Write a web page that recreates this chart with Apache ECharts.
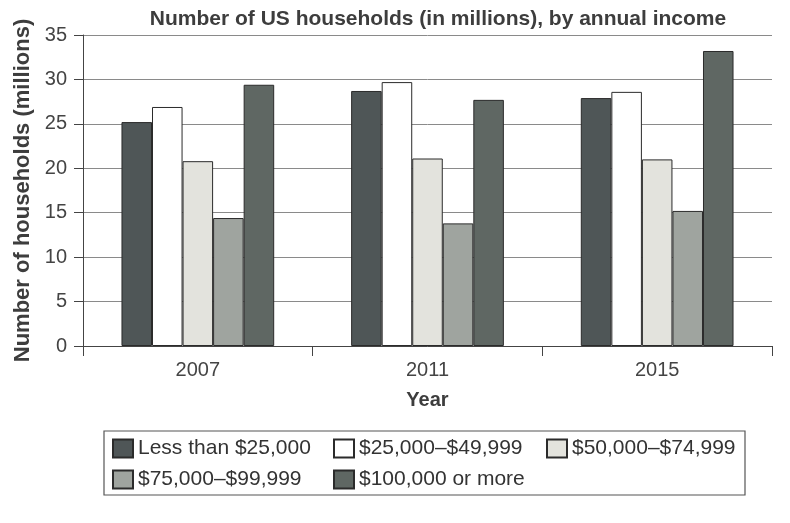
<!DOCTYPE html>
<html>
<head>
<meta charset="utf-8">
<script src="https://cdn.jsdelivr.net/npm/echarts@6/dist/echarts.min.js"></script>
<style>
  html, body { margin: 0; padding: 0; background: #fff; }
  #chart { width: 790px; height: 523px; }
</style>
</head>
<body>
<div id="chart"></div>
<script>
const years = ['2007', '2011', '2015'];
const seriesNames = ['Less than $25,000', '$25,000\u2013$49,999', '$50,000\u2013$74,999', '$75,000\u2013$99,999', '$100,000 or more'];
const lessThan25k = [25.2, 28.7, 27.9];
const from25kTo49k = [26.9, 29.7, 28.6];
const from50kTo74k = [20.8, 21.1, 21.0];
const from75kTo99k = [14.4, 13.8, 15.2];
const over100k = [29.4, 27.7, 33.2];
const yTicks = [0, 5, 10, 15, 20, 25, 30, 35];

const values = [lessThan25k, from25kTo49k, from50kTo74k, from75kTo99k, over100k];
const colors = ['#4f5657', '#ffffff', '#e3e3dd', '#9fa49f', '#5f6763'];
const FONT = 'Liberation Sans';

const legendPos = [
  { left: 112, top: 438 },
  { left: 333, top: 438 },
  { left: 546, top: 438 },
  { left: 112, top: 469 },
  { left: 333, top: 469 }
];

const chart = echarts.init(document.getElementById('chart'), null, { renderer: 'canvas' });
chart.setOption({
  backgroundColor: '#ffffff',
  animation: false,
  textStyle: { fontFamily: FONT },
  title: {
    text: 'Number of US households (in millions), by annual income',
    left: 433, top: 4, textAlign: 'center',
    textStyle: { fontFamily: FONT, fontSize: 21, fontWeight: 'bold', color: '#3d3d3d' }
  },
  legend: seriesNames.map((n, i) => ({
    data: [n],
    left: legendPos[i].left,
    top: legendPos[i].top,
    padding: 0,
    itemWidth: 20,
    itemHeight: 18,
    itemGap: 0,
    selectedMode: false,
    icon: 'rect',
    textStyle: { fontFamily: FONT, fontSize: 21, color: '#333' }
  })),
  graphic: [{
    type: 'rect',
    shape: { x: 104, y: 431, width: 641, height: 64 },
    style: { fill: 'none', stroke: '#555', lineWidth: 1.2 },
    z: -1
  }],
  grid: { left: 83, right: 18, top: 35, bottom: 177 },
  xAxis: {
    type: 'category',
    data: years,
    name: 'Year',
    nameLocation: 'middle',
    nameGap: 44,
    nameTextStyle: { fontFamily: FONT, fontSize: 20, fontWeight: 'bold', color: '#3d3d3d' },
    axisLine: { lineStyle: { color: '#444', width: 1 } },
    axisTick: { show: true, length: 10, lineStyle: { color: '#444' } },
    axisLabel: { fontFamily: FONT, fontSize: 20, color: '#444', margin: 14 }
  },
  yAxis: {
    type: 'value',
    min: yTicks[0],
    max: yTicks[yTicks.length - 1],
    interval: 5,
    name: 'Number of households (millions)',
    nameLocation: 'middle',
    nameGap: 45,
    nameTextStyle: { fontFamily: FONT, fontSize: 22, fontWeight: 'bold', color: '#3d3d3d' },
    axisLine: { show: true, lineStyle: { color: '#444', width: 1 } },
    axisTick: { show: true, length: 9, lineStyle: { color: '#444' } },
    axisLabel: { fontFamily: FONT, fontSize: 20, color: '#444', margin: 16 },
    splitLine: { lineStyle: { color: '#8a8a8a', width: 1 } }
  },
  series: seriesNames.map((n, i) => ({
    name: n,
    type: 'bar',
    data: values[i],
    barGap: '0%',
    barCategoryGap: '33.5%',
    itemStyle: { color: colors[i], borderColor: '#2b2b2b', borderWidth: 1 }
  }))
});
</script>
</body>
</html>
